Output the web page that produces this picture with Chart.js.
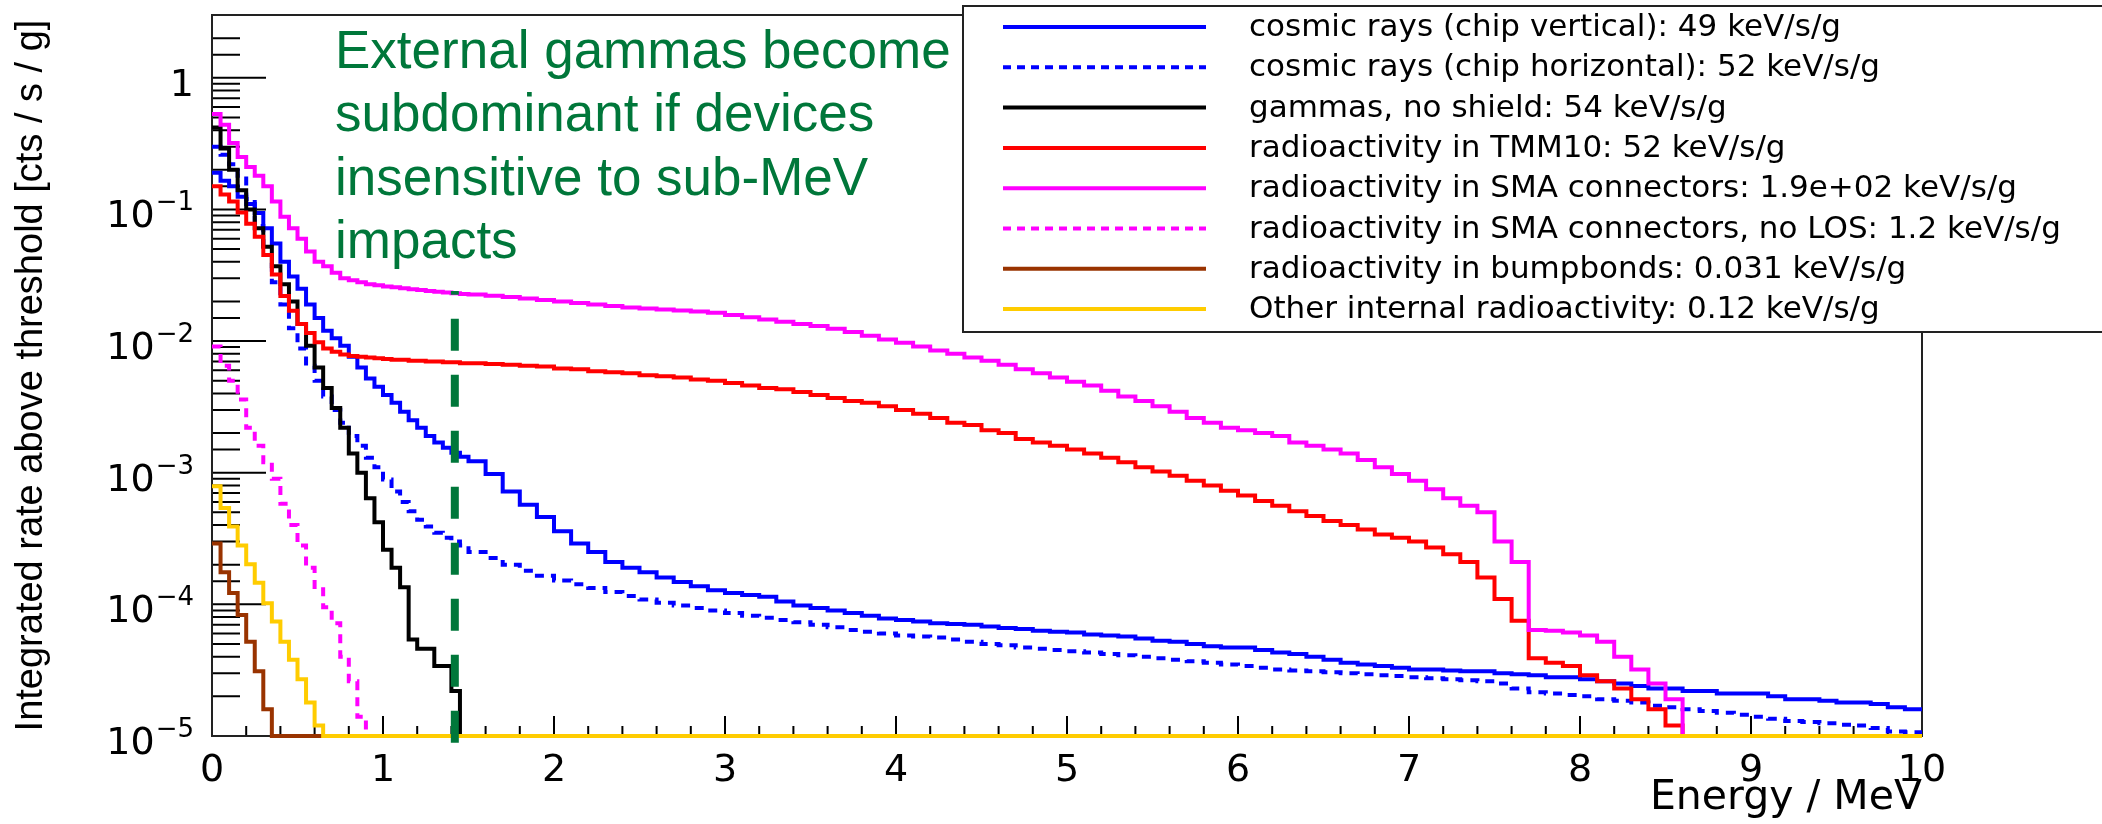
<!DOCTYPE html>
<html>
<head>
<meta charset="utf-8">
<title>Integrated rate above threshold</title>
<script src="https://cdn.jsdelivr.net/npm/chart.js"></script>
<style>
  html, body { margin: 0; padding: 0; background: #fff; overflow: hidden; }
  canvas { display: block; }
</style>
</head>
<body>
<canvas id="chart" width="2102" height="824"></canvas>
<script>
const X_MAX = 10;

// bin low edges (MeV): 0.05 steps up to 1.5, then 0.1 steps
const energy = [
  0, 0.05, 0.1, 0.15, 0.2, 0.25, 0.3, 0.35, 0.4, 0.45,
  0.5, 0.55, 0.6, 0.65, 0.7, 0.75, 0.8, 0.85, 0.9, 0.95,
  1, 1.05, 1.1, 1.15, 1.2, 1.25, 1.3, 1.35, 1.4, 1.45,
  1.5, 1.6, 1.7, 1.8, 1.9,
  2, 2.1, 2.2, 2.3, 2.4, 2.5, 2.6, 2.7, 2.8, 2.9,
  3, 3.1, 3.2, 3.3, 3.4, 3.5, 3.6, 3.7, 3.8, 3.9,
  4, 4.1, 4.2, 4.3, 4.4, 4.5, 4.6, 4.7, 4.8, 4.9,
  5, 5.1, 5.2, 5.3, 5.4, 5.5, 5.6, 5.7, 5.8, 5.9,
  6, 6.1, 6.2, 6.3, 6.4, 6.5, 6.6, 6.7, 6.8, 6.9,
  7, 7.1, 7.2, 7.3, 7.4, 7.5, 7.6, 7.7, 7.8, 7.9,
  8, 8.1, 8.2, 8.3, 8.4, 8.5, 8.6, 8.7, 8.8, 8.9,
  9, 9.1, 9.2, 9.3, 9.4, 9.5, 9.6, 9.7, 9.8, 9.9
];

// integrated rate above threshold [cts/s/g], one value per bin
const cosmicVertical = [
  0.19, 0.165, 0.15, 0.125, 0.11, 0.094, 0.072, 0.055, 0.04, 0.031,
  0.025, 0.019, 0.015, 0.012, 0.0105, 0.0092, 0.0076, 0.0063, 0.0052, 0.0045,
  0.0039, 0.0034, 0.0029, 0.0025, 0.0022, 0.0019, 0.0017, 0.00155, 0.00142, 0.00132,
  1.22e-3, 9.8e-4, 7.2e-4, 5.7e-4, 4.6e-4,
  3.6e-4, 2.9e-4, 2.5e-4, 2.1e-4, 1.9e-4, 1.75e-4, 1.6e-4, 1.48e-4, 1.37e-4, 1.28e-4,
  1.22e-4, 1.18e-4, 1.14e-4, 1.05e-4, 9.8e-5, 9.4e-5, 9.0e-5, 8.6e-5, 8.2e-5, 7.8e-5,
  7.6e-5, 7.4e-5, 7.2e-5, 7.1e-5, 7.0e-5, 6.8e-5, 6.6e-5, 6.5e-5, 6.3e-5, 6.2e-5,
  6.1e-5, 5.9e-5, 5.8e-5, 5.7e-5, 5.5e-5, 5.3e-5, 5.2e-5, 5.0e-5, 4.8e-5, 4.7e-5,
  4.7e-5, 4.5e-5, 4.3e-5, 4.2e-5, 4.0e-5, 3.8e-5, 3.6e-5, 3.5e-5, 3.4e-5, 3.3e-5,
  3.2e-5, 3.2e-5, 3.15e-5, 3.1e-5, 3.1e-5, 3.0e-5, 2.95e-5, 2.9e-5, 2.8e-5, 2.8e-5,
  2.7e-5, 2.6e-5, 2.5e-5, 2.4e-5, 2.3e-5, 2.3e-5, 2.2e-5, 2.2e-5, 2.1e-5, 2.1e-5,
  2.1e-5, 2.0e-5, 1.9e-5, 1.9e-5, 1.85e-5, 1.8e-5, 1.8e-5, 1.75e-5, 1.65e-5, 1.6e-5
];

const cosmicHorizontal = [
  0.30, 0.26, 0.22, 0.18, 0.12, 0.075, 0.045, 0.028, 0.019, 0.0125,
  0.0088, 0.0065, 0.005, 0.0038, 0.003, 0.0024, 0.0019, 0.0016, 0.0013, 0.0011,
  8.9e-4, 7.2e-4, 6.0e-4, 5.1e-4, 4.4e-4, 3.9e-4, 3.5e-4, 3.2e-4, 3.0e-4, 2.8e-4,
  2.5e-4, 2.25e-4, 2.0e-4, 1.8e-4, 1.65e-4,
  1.52e-4, 1.42e-4, 1.33e-4, 1.24e-4, 1.16e-4, 1.09e-4, 1.03e-4, 9.8e-5, 9.4e-5, 9.0e-5,
  8.6e-5, 8.2e-5, 7.9e-5, 7.6e-5, 7.3e-5, 7.0e-5, 6.7e-5, 6.4e-5, 6.2e-5, 6.0e-5,
  5.8e-5, 5.7e-5, 5.6e-5, 5.4e-5, 5.2e-5, 5.0e-5, 4.9e-5, 4.7e-5, 4.6e-5, 4.5e-5,
  4.4e-5, 4.3e-5, 4.2e-5, 4.1e-5, 4.0e-5, 3.9e-5, 3.8e-5, 3.7e-5, 3.6e-5, 3.5e-5,
  3.4e-5, 3.3e-5, 3.2e-5, 3.15e-5, 3.1e-5, 3.05e-5, 3.0e-5, 2.95e-5, 2.9e-5, 2.85e-5,
  2.8e-5, 2.75e-5, 2.7e-5, 2.65e-5, 2.6e-5, 2.5e-5, 2.3e-5, 2.15e-5, 2.1e-5, 2.05e-5,
  2.0e-5, 1.9e-5, 1.85e-5, 1.8e-5, 1.7e-5, 1.65e-5, 1.6e-5, 1.55e-5, 1.5e-5, 1.45e-5,
  1.4e-5, 1.35e-5, 1.3e-5, 1.28e-5, 1.25e-5, 1.22e-5, 1.2e-5, 1.15e-5, 1.08e-5, 1.07e-5
];

const gammasNoShield = [
  0.42, 0.29, 0.20, 0.14, 0.10, 0.072, 0.052, 0.037, 0.027, 0.020,
  0.0135, 0.0092, 0.0063, 0.0044, 0.0031, 0.0022, 0.0014, 0.001, 6.4e-4, 4.2e-4,
  2.6e-4, 1.9e-4, 1.35e-4, 5.4e-5, 4.6e-5, 4.6e-5, 3.4e-5, 3.4e-5, 2.2e-5, 1e-5
];

const tmm10 = [
  0.15, 0.13, 0.115, 0.095, 0.078, 0.062, 0.045, 0.032, 0.022, 0.017,
  0.0135, 0.0115, 0.0098, 0.0088, 0.0083, 0.0079, 0.0077, 0.0076, 0.0075, 0.0074,
  0.0073, 0.0072, 0.0072, 0.0071, 0.0071, 0.007, 0.007, 0.0069, 0.0069, 0.0068,
  0.0068, 0.0067, 0.0066, 0.0065, 0.0064,
  0.0062, 0.0061, 0.0059, 0.0058, 0.0057, 0.0055, 0.0054, 0.0053, 0.0051, 0.005,
  0.0048, 0.0046, 0.0044, 0.0043, 0.0041, 0.0039, 0.0037, 0.0035, 0.0034, 0.0032,
  0.003, 0.0028, 0.0026, 0.0024, 0.0023, 0.0021, 0.002, 0.0018, 0.0017, 0.0016,
  0.0015, 0.0014, 0.0013, 0.0012, 0.0011, 1.02e-3, 9.5e-4, 8.7e-4, 8.0e-4, 7.3e-4,
  6.7e-4, 6.1e-4, 5.6e-4, 5.1e-4, 4.7e-4, 4.3e-4, 4.0e-4, 3.7e-4, 3.4e-4, 3.2e-4,
  3.0e-4, 2.7e-4, 2.4e-4, 2.1e-4, 1.6e-4, 1.1e-4, 7.5e-5, 3.9e-5, 3.6e-5, 3.4e-5,
  2.9e-5, 2.6e-5, 2.3e-5, 1.9e-5, 1.6e-5, 1.2e-5, 1e-5
];

const smaConnectors = [
  0.53, 0.44, 0.32, 0.25, 0.21, 0.18, 0.15, 0.115, 0.088, 0.072,
  0.06, 0.048, 0.04, 0.037, 0.033, 0.03, 0.029, 0.028, 0.027, 0.0265,
  0.026, 0.0256, 0.0252, 0.0248, 0.0244, 0.024, 0.0237, 0.0234, 0.0231, 0.0228,
  0.0226, 0.0221, 0.0216, 0.0211, 0.0205,
  0.02, 0.0195, 0.019, 0.0185, 0.018, 0.0177, 0.0174, 0.0171, 0.0168, 0.0164,
  0.0158, 0.0152, 0.0146, 0.014, 0.0135, 0.013, 0.0124, 0.0117, 0.011, 0.0103,
  0.0097, 0.0091, 0.0085, 0.008, 0.0075, 0.0071, 0.0066, 0.0061, 0.0057, 0.0053,
  0.0049, 0.0046, 0.0042, 0.0038, 0.0035, 0.0032, 0.0029, 0.0026, 0.0024, 0.0022,
  0.0021, 0.002, 0.0019, 0.0017, 0.0016, 0.0015, 0.0014, 0.00125, 0.0011, 9.8e-4,
  8.7e-4, 7.5e-4, 6.4e-4, 5.6e-4, 5.0e-4, 3.0e-4, 2.1e-4, 6.4e-5, 6.3e-5, 6.1e-5,
  5.8e-5, 5.2e-5, 4.0e-5, 3.2e-5, 2.5e-5, 1.9e-5, 1e-5
];

const smaNoLos = [
  0.0091, 0.0065, 0.005, 0.0036, 0.0022, 0.0016, 0.0012, 9.0e-4, 5.8e-4, 4.0e-4,
  2.8e-4, 1.9e-4, 1.3e-4, 9.5e-5, 7.2e-5, 4.0e-5, 2.6e-5, 1.4e-5, 1e-5
];

const bumpbonds = [
  2.9e-4, 1.75e-4, 1.22e-4, 8.3e-5, 5.2e-5, 3.1e-5, 1.6e-5, 1e-5
];

const otherInternal = [
  7.9e-4, 5.4e-4, 3.9e-4, 2.8e-4, 2.02e-4, 1.46e-4, 1.02e-4, 7.4e-5, 5.2e-5, 3.8e-5,
  2.7e-5, 1.8e-5, 1.2e-5, 1e-5
];

const seriesLabels = [
  'cosmic rays (chip vertical): 49 keV/s/g',
  'cosmic rays (chip horizontal): 52 keV/s/g',
  'gammas, no shield: 54 keV/s/g',
  'radioactivity in TMM10: 52 keV/s/g',
  'radioactivity in SMA connectors: 1.9e+02 keV/s/g',
  'radioactivity in SMA connectors, no LOS: 1.2 keV/s/g',
  'radioactivity in bumpbonds: 0.031 keV/s/g',
  'Other internal radioactivity: 0.12 keV/s/g'
];

const xTickLabels = ['0', '1', '2', '3', '4', '5', '6', '7', '8', '9', '10'];
// y labels as base and exponent, the way ROOT writes them
const yTickValues = [1e-5, 1e-4, 1e-3, 1e-2, 1e-1, 1];
const yTickBases = ['10', '10', '10', '10', '10', '1'];
const yTickExponents = ['\u22125', '\u22124', '\u22123', '\u22122', '\u22121', ''];

// vertical cut marker and its note
const cutEnergy = [1.42, 1.42];
const cutRate = [8.9e-6, 0.024];
const noteLines = ['External gammas become', 'subdominant if devices', 'insensitive to sub-MeV', 'impacts'];

const ROOT_FONT = "'DejaVu Sans', 'Liberation Sans', sans-serif";
const NOTE_GREEN = '#00773a';

const series = [
  { values: cosmicVertical, color: '#0000ff', dash: [] },
  { values: cosmicHorizontal, color: '#0000ff', dash: [9, 7] },
  { values: gammasNoShield, color: '#000000', dash: [] },
  { values: tmm10, color: '#ff0000', dash: [] },
  { values: smaConnectors, color: '#ff00ff', dash: [] },
  { values: smaNoLos, color: '#ff00ff', dash: [9, 7] },
  { values: bumpbonds, color: '#993300', dash: [] },
  { values: otherInternal, color: '#ffcc00', dash: [] }
];

// histogram: one point per bin edge, last content held to the axis end
function histPoints(values) {
  const pts = values.map((v, i) => ({ x: energy[i], y: v }));
  pts.push({ x: X_MAX, y: values[values.length - 1] });
  return pts;
}

const datasets = series.map((s, i) => ({
  label: seriesLabels[i],
  data: histPoints(s.values),
  borderColor: s.color,
  borderDash: s.dash,
  borderWidth: 4,
  borderJoinStyle: 'miter',
  stepped: 'before',
  pointRadius: 0,
  fill: false,
  clip: false,
  order: series.length - i
}));

datasets.push({
  label: '',
  isNote: true,
  data: cutEnergy.map((e, i) => ({ x: e, y: cutRate[i] })),
  borderColor: NOTE_GREEN,
  borderWidth: 8,
  borderDash: [32, 24],
  pointRadius: 0,
  fill: false,
  clip: false,
  order: 0
});

const isPow10 = v => Math.abs(Math.log10(v) - Math.round(Math.log10(v))) < 1e-6;
const isWhole = v => Math.abs(v - Math.round(v)) < 1e-6;

// keep the plot frame exactly where the axis boxes say
function noEdgePadding(s) {
  s.paddingTop = 0;
  s.paddingBottom = 0;
  s.paddingLeft = 0;
  s.paddingRight = 0;
}

// ROOT style frame, inward ticks, y labels, legend box and the green note
const rootStyle = {
  id: 'rootStyle',
  beforeDatasetsDraw(chart) {
    const { ctx, chartArea: a, scales: { x, y } } = chart;
    ctx.save();
    ctx.strokeStyle = '#000';
    ctx.lineWidth = 2;
    ctx.beginPath();
    x.ticks.forEach(t => {
      const px = x.getPixelForValue(t.value);
      ctx.moveTo(px, a.bottom);
      ctx.lineTo(px, a.bottom - (isWhole(t.value) ? 20 : 10));
    });
    y.ticks.forEach(t => {
      const py = y.getPixelForValue(t.value);
      ctx.moveTo(a.left, py);
      ctx.lineTo(a.left + (isPow10(t.value) ? 54 : 28), py);
    });
    ctx.stroke();
    ctx.strokeStyle = '#222';
    ctx.strokeRect(a.left, a.top, a.right - a.left, a.bottom - a.top);

    // decade labels: "10" with a raised exponent
    const right = a.left - 18;
    ctx.fillStyle = '#000';
    ctx.textAlign = 'right';
    ctx.textBaseline = 'alphabetic';
    yTickValues.forEach((v, i) => {
      const py = y.getPixelForValue(v);
      let baseRight = right;
      if (yTickExponents[i]) {
        ctx.font = "26px " + ROOT_FONT;
        ctx.fillText(yTickExponents[i], right, py + 1);
        baseRight = right - ctx.measureText(yTickExponents[i]).width - 1;
      }
      ctx.font = "38px " + ROOT_FONT;
      ctx.fillText(yTickBases[i], baseRight, py + 18);
    });
    ctx.restore();
  },
  afterDraw(chart) {
    const { ctx } = chart;
    ctx.save();

    // legend
    const box = { left: 963, top: 6, right: 2110, bottom: 332 };
    ctx.fillStyle = '#fff';
    ctx.fillRect(box.left, box.top, box.right - box.left, box.bottom - box.top);
    ctx.strokeStyle = '#222';
    ctx.lineWidth = 2;
    ctx.strokeRect(box.left, box.top, box.right - box.left, box.bottom - box.top);

    ctx.font = "31px " + ROOT_FONT;
    ctx.textBaseline = 'middle';
    ctx.textAlign = 'left';
    chart.data.datasets.filter(d => !d.isNote).forEach((d, i) => {
      const yy = 27 + i * 40.3;
      ctx.strokeStyle = d.borderColor;
      ctx.lineWidth = 4;
      ctx.setLineDash(d.borderDash.length ? [8, 6] : []);
      ctx.beginPath();
      ctx.moveTo(1003, yy);
      ctx.lineTo(1206, yy);
      ctx.stroke();
      ctx.setLineDash([]);
      ctx.fillStyle = '#000';
      ctx.fillText(d.label, 1249, yy + 1);
    });

    // note
    ctx.font = "53px 'Liberation Sans', Arial, sans-serif";
    ctx.fillStyle = NOTE_GREEN;
    ctx.textBaseline = 'alphabetic';
    noteLines.forEach((line, i) => ctx.fillText(line, 335, 68 + i * 63.3));

    ctx.restore();
  }
};

new Chart(document.getElementById('chart'), {
  type: 'line',
  data: { datasets },
  plugins: [rootStyle],
  options: {
    responsive: false,
    devicePixelRatio: 1,
    animation: false,
    events: [],
    layout: { padding: { left: 0, top: 15, right: 180, bottom: 0 } },
    plugins: {
      legend: { display: false },
      tooltip: { enabled: false }
    },
    scales: {
      x: {
        type: 'linear',
        min: 0,
        max: X_MAX,
        grid: { display: false, drawTicks: false },
        border: { display: false },
        ticks: {
          stepSize: 0.2,
          autoSkip: false,
          maxRotation: 0,
          padding: 12,
          color: '#000',
          font: { family: ROOT_FONT, size: 38 },
          callback: v => isWhole(v) ? xTickLabels[Math.round(v)] : ''
        },
        title: {
          display: true,
          text: 'Energy / MeV',
          align: 'end',
          color: '#000',
          font: { family: ROOT_FONT, size: 41 },
          padding: { top: 0, bottom: 1 }
        },
        afterFit: s => { s.height = 88; noEdgePadding(s); }
      },
      y: {
        type: 'logarithmic',
        min: 1e-5,
        max: 3,
        grid: { display: false, drawTicks: false },
        border: { display: false },
        ticks: { display: false, autoSkip: false },
        title: {
          display: true,
          text: 'Integrated rate above threshold [cts / s / g]',
          color: '#000',
          font: { family: "'Liberation Sans', Arial, sans-serif", size: 38 },
          padding: { top: 9, bottom: 0 }
        },
        afterFit: s => { s.width = 212; noEdgePadding(s); }
      }
    }
  }
});
</script>
</body>
</html>
